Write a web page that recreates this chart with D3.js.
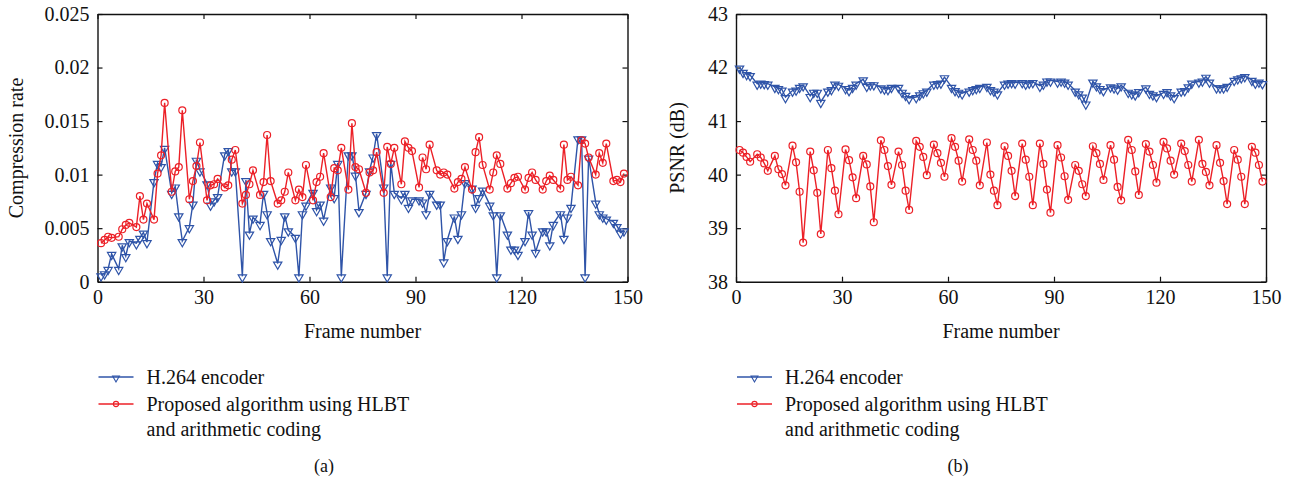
<!DOCTYPE html>
<html>
<head>
<meta charset="utf-8">
<script src="https://cdn.jsdelivr.net/npm/d3@7"></script>
<style>
  body { margin: 0; background: #fff; }
  svg text { font-family: "Liberation Serif", "Times New Roman", serif; fill: #111; }
</style>
</head>
<body>
<script>
// frames that carry a sample (every 5th frame is not plotted)
var frames = [
  1,2,3,4, 6,7,8,9, 11,12,13,14, 16,17,18,19, 21,22,23,24, 26,27,28,29,
  31,32,33,34, 36,37,38,39, 41,42,43,44, 46,47,48,49, 51,52,53,54, 56,57,58,59,
  61,62,63,64, 66,67,68,69, 71,72,73,74, 76,77,78,79, 81,82,83,84, 86,87,88,89,
  91,92,93,94, 96,97,98,99, 101,102,103,104, 106,107,108,109, 111,112,113,114,
  116,117,118,119, 121,122,123,124, 126,127,128,129, 131,132,133,134,
  136,137,138,139, 141,142,143,144, 146,147,148,149
];

// (a) compression rate
var crH264 = [
  .0006,.0008,.0012,.0026, .0012,.0034,.0024,.0038, .0036,.0041,.0046,.0037,
  .0094,.0111,.0108,.0125, .0083,.0089,.0062,.0038, .0051,.0073,.0114,.0104,
  .0092,.0072,.0076,.0080, .0119,.0123,.0104,.0104, .0005,.0095,.0045,.0060,
  .0054,.0083,.0064,.0039, .0017,.0040,.0062,.0048, .0042,.0005,.0064,.0072,
  .0084,.0067,.0073,.0058, .0089,.0079,.0111,.0005, .0119,.0119,.0100,.0066,
  .0083,.0104,.0117,.0138, .0089,.0005,.0111,.0083, .0078,.0083,.0070,.0077,
  .0077,.0075,.0064,.0083, .0073,.0073,.0019,.0039, .0061,.0041,.0064,.0093,
  .0088,.0070,.0079,.0086, .0072,.0063,.0005,.0063, .0045,.0031,.0031,.0026,
  .0039,.0065,.0045,.0028, .0048,.0048,.0035,.0054, .0064,.0041,.0061,.0070,
  .0134,.0134,.0005,.0116, .0074,.0064,.0061,.0059, .0056,.0052,.0046,.0048
];
var crProposed = [
  .0036,.0039,.0042,.0041, .0042,.0049,.0053,.0055, .0051,.0080,.0058,.0073,
  .0058,.0101,.0118,.0167, .0084,.0103,.0107,.0160, .0077,.0094,.0108,.0130,
  .0076,.0090,.0091,.0096, .0088,.0090,.0114,.0123, .0073,.0081,.0091,.0104,
  .0081,.0093,.0137,.0094, .0073,.0076,.0084,.0102, .0076,.0086,.0079,.0109,
  .0076,.0093,.0098,.0120, .0079,.0106,.0104,.0125, .0086,.0148,.0107,.0105,
  .0083,.0102,.0104,.0121, .0083,.0126,.0110,.0125, .0091,.0131,.0125,.0122,
  .0088,.0116,.0105,.0128, .0104,.0100,.0102,.0100, .0087,.0093,.0096,.0107,
  .0086,.0121,.0135,.0109, .0086,.0102,.0118,.0110, .0087,.0092,.0097,.0098,
  .0086,.0097,.0102,.0095, .0086,.0094,.0099,.0095, .0087,.0128,.0095,.0098,
  .0090,.0132,.0129,.0116, .0100,.0120,.0111,.0129, .0094,.0095,.0093,.0101
];

// (b) PSNR
var psnrH264 = [
  42.00,41.92,41.88,41.86, 41.70,41.72,41.71,41.70, 41.64,41.62,41.59,41.45,
  41.57,41.59,41.64,41.67, 41.47,41.55,41.55,41.36, 41.57,41.60,41.70,41.68,
  41.62,41.58,41.64,41.70, 41.78,41.66,41.69,41.69, 41.63,41.61,41.60,41.64,
  41.64,41.55,41.49,41.43, 41.45,41.50,41.54,41.57, 41.70,41.71,41.72,41.82,
  41.64,41.58,41.55,41.52, 41.57,41.60,41.62,41.64, 41.66,41.60,41.57,41.52,
  41.70,41.72,41.73,41.72, 41.73,41.70,41.72,41.73, 41.66,41.70,41.76,41.76,
  41.74,41.76,41.74,41.70, 41.57,41.52,41.46,41.33, 41.74,41.67,41.62,41.58,
  41.65,41.63,41.61,41.67, 41.55,41.52,41.50,41.56, 41.63,41.53,41.50,41.47,
  41.53,41.56,41.50,41.45, 41.57,41.58,41.65,41.72, 41.74,41.76,41.83,41.74,
  41.63,41.63,41.63,41.66, 41.77,41.80,41.82,41.84, 41.77,41.72,41.74,41.71
];
var psnrProposed = [
  40.46,40.41,40.33,40.24, 40.38,40.32,40.21,40.07, 40.35,40.10,40.01,39.80,
  40.54,40.23,39.68,38.73, 40.43,40.08,39.66,38.89, 40.46,40.12,39.70,39.26,
  40.47,40.27,39.95,39.56, 40.35,40.19,39.78,39.11, 40.64,40.46,40.16,39.81,
  40.43,40.18,39.70,39.34, 40.63,40.52,40.33,39.99, 40.56,40.40,40.22,39.96,
  40.68,40.52,40.26,39.87, 40.66,40.46,40.26,39.80, 40.60,40.00,39.70,39.43,
  40.53,40.35,40.07,39.60, 40.58,40.28,39.96,39.43, 40.58,40.20,39.72,39.29,
  40.55,40.32,39.97,39.53, 40.18,40.07,39.82,39.60, 40.53,40.40,40.20,39.90,
  40.55,40.28,39.77,39.52, 40.65,40.46,40.06,39.62, 40.57,40.43,40.18,39.85,
  40.61,40.49,40.26,40.00, 40.58,40.44,40.18,39.87, 40.65,40.20,40.05,39.80,
  40.55,40.22,39.88,39.45, 40.46,40.28,39.96,39.45, 40.52,40.41,40.18,39.87
];

var xTicks = [0, 30, 60, 90, 120, 150];
var crTicks = [0, 0.005, 0.01, 0.015, 0.02, 0.025];
var crTickLabels = ["0", "0.005", "0.01", "0.015", "0.02", "0.025"];
var psnrTicks = [38, 39, 40, 41, 42, 43];
var psnrTickLabels = ["38", "39", "40", "41", "42", "43"];
var seriesNames = ["H.264 encoder", "Proposed algorithm using HLBT", "and arithmetic coding"];

var blue = "#2f54a8", red = "#ec2027";

var svg = d3.select("body").append("svg")
  .attr("width", 1294)
  .attr("height", 482);

var triangle = d3.symbol().type(d3.symbolTriangle).size(30);

function panel(opt) {
  var x = d3.scaleLinear().domain([0, 150]).range([opt.left, opt.left + 530]);
  var y = d3.scaleLinear().domain(opt.domain).range([281.7, 14]);
  var g = svg.append("g");

  // box with inward ticks on all four sides
  g.append("g").attr("transform", "translate(0,281.7)")
    .call(d3.axisBottom(x).tickValues(xTicks).tickSizeInner(-5).tickSizeOuter(0).tickPadding(8));
  g.append("g").attr("transform", "translate(0,14)")
    .call(d3.axisTop(x).tickValues(xTicks).tickSizeInner(-5).tickSizeOuter(0).tickFormat(""));
  g.append("g").attr("transform", "translate(" + opt.left + ",0)")
    .call(d3.axisLeft(y).tickValues(opt.ticks).tickSizeInner(-5).tickSizeOuter(0).tickPadding(8)
      .tickFormat(function(d, i) { return opt.labels[i]; }));
  g.append("g").attr("transform", "translate(" + (opt.left + 530) + ",0)")
    .call(d3.axisRight(y).tickValues(opt.ticks).tickSizeInner(-5).tickSizeOuter(0).tickFormat(""));

  g.selectAll(".domain").attr("stroke", "#111").attr("stroke-width", 1.4);
  g.selectAll(".tick line").attr("stroke", "#111").attr("stroke-width", 1.2);
  g.selectAll(".tick text").attr("font-size", 20).attr("fill", "#111")
    .style("font-family", '"Liberation Serif", serif');

  // axis titles
  g.append("text")
    .attr("x", opt.left + 265).attr("y", 338)
    .attr("text-anchor", "middle").attr("font-size", 20)
    .text("Frame number");
  g.append("text")
    .attr("transform", "translate(" + opt.ylabX + ",148) rotate(-90)")
    .attr("text-anchor", "middle").attr("font-size", 20)
    .text(opt.ylabel);

  var line = d3.line()
    .x(function(d, i) { return x(frames[i]); })
    .y(function(d) { return y(d); });

  // H.264 series
  g.append("path").datum(opt.h264)
    .attr("fill", "none").attr("stroke", blue).attr("stroke-width", 1.4)
    .attr("d", line);
  g.selectAll(".tri").data(opt.h264).enter().append("path")
    .attr("class", "tri")
    .attr("d", triangle)
    .attr("transform", function(d, i) { return "translate(" + x(frames[i]) + "," + (y(d) + 1) + ") rotate(180)"; })
    .attr("fill", "none").attr("stroke", blue).attr("stroke-width", 1.2);

  // proposed series
  g.append("path").datum(opt.proposed)
    .attr("fill", "none").attr("stroke", red).attr("stroke-width", 1.4)
    .attr("d", line);
  g.selectAll(".circ").data(opt.proposed).enter().append("circle")
    .attr("class", "circ")
    .attr("cx", function(d, i) { return x(frames[i]); })
    .attr("cy", function(d) { return y(d); })
    .attr("r", 3.5)
    .attr("fill", "none").attr("stroke", red).attr("stroke-width", 1.2);

  // legend
  var lx = opt.left + 1;
  var lg = svg.append("g");
  lg.append("line").attr("x1", lx).attr("x2", lx + 35).attr("y1", 377).attr("y2", 377)
    .attr("stroke", blue).attr("stroke-width", 1.4);
  lg.append("path").attr("d", d3.symbol().type(d3.symbolTriangle).size(20))
    .attr("transform", "translate(" + (lx + 17.5) + ",378) rotate(180)")
    .attr("fill", "none").attr("stroke", blue).attr("stroke-width", 1.1);
  lg.append("line").attr("x1", lx).attr("x2", lx + 35).attr("y1", 404).attr("y2", 404)
    .attr("stroke", red).attr("stroke-width", 1.4);
  lg.append("circle").attr("cx", lx + 17.5).attr("cy", 404).attr("r", 2.6)
    .attr("fill", "none").attr("stroke", red).attr("stroke-width", 1.1);
  lg.append("text").attr("x", lx + 48).attr("y", 384).attr("font-size", 20).text(seriesNames[0]);
  lg.append("text").attr("x", lx + 48).attr("y", 411).attr("font-size", 20).text(seriesNames[1]);
  lg.append("text").attr("x", lx + 48).attr("y", 436).attr("font-size", 20).text(seriesNames[2]);

  svg.append("text").attr("x", opt.capX).attr("y", 472)
    .attr("text-anchor", "middle").attr("font-size", 18).text(opt.caption);
}

panel({
  left: 97.5, domain: [0, 0.025], ticks: crTicks, labels: crTickLabels,
  h264: crH264, proposed: crProposed,
  ylabel: "Compression rate", ylabX: 23, caption: "(a)", capX: 324
});
panel({
  left: 736, domain: [38, 43], ticks: psnrTicks, labels: psnrTickLabels,
  h264: psnrH264, proposed: psnrProposed,
  ylabel: "PSNR (dB)", ylabX: 684, caption: "(b)", capX: 958
});
</script>
</body>
</html>
